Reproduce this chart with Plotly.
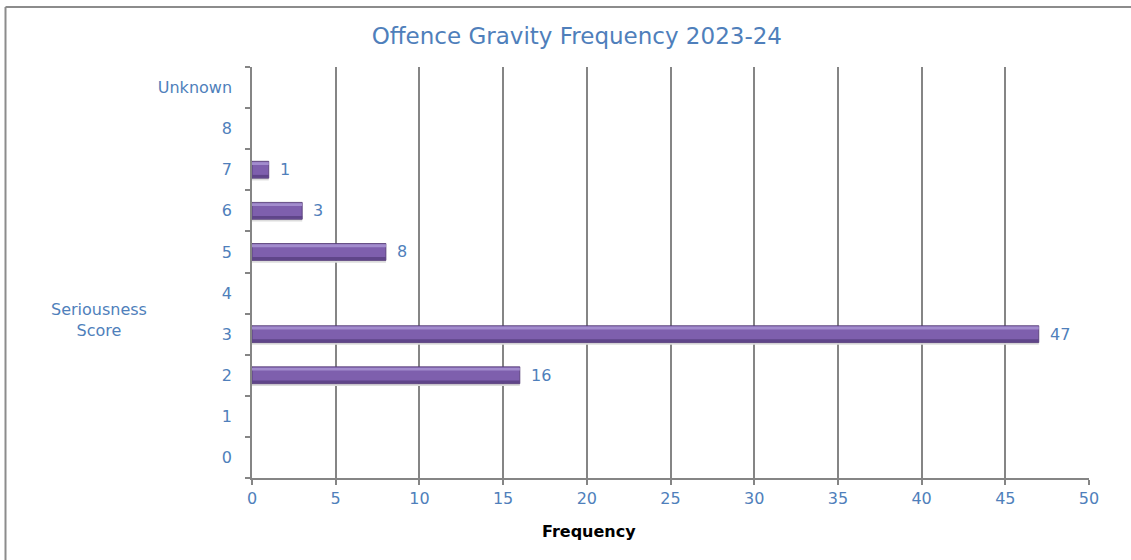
import plotly.graph_objects as go

# Seriousness score categories (bottom to top) and their frequencies
categories = ["0", "1", "2", "3", "4", "5", "6", "7", "8", "Unknown"]
score_cats = ["2", "3", "5", "6", "7"]
frequencies = [16, 47, 8, 3, 1]
x_ticks = [0, 5, 10, 15, 20, 25, 30, 35, 40, 45, 50]

BLUE = "#4F7FBB"
FONT = "DejaVu Sans"

fig = go.Figure()

# soft shadow beneath each bar
fig.add_trace(go.Bar(
    y=score_cats, x=frequencies, orientation="h",
    width=0.06, offset=-0.26,
    marker=dict(color="#DCDCDC", line=dict(width=0)),
    hoverinfo="skip", showlegend=False,
))
# main bar body
fig.add_trace(go.Bar(
    y=score_cats, x=frequencies, orientation="h",
    width=0.41, offset=-0.205,
    marker=dict(color="#7E5FAD", line=dict(color="#4F3670", width=0.8)),
    hoverinfo="x+y", showlegend=False,
))
# lighter bevel along the top edge
fig.add_trace(go.Bar(
    y=score_cats, x=frequencies, orientation="h",
    width=0.07, offset=0.115,
    marker=dict(color="#A28CCD", line=dict(width=0)),
    hoverinfo="skip", showlegend=False,
))
# darker shade along the bottom edge
fig.add_trace(go.Bar(
    y=score_cats, x=frequencies, orientation="h",
    width=0.07, offset=-0.195,
    marker=dict(color="#5F4589", line=dict(width=0)),
    hoverinfo="skip", showlegend=False,
))

# value labels to the right of each bar
for cat, val in zip(score_cats, frequencies):
    fig.add_annotation(
        x=val, y=cat, text=str(val), showarrow=False,
        xanchor="left", yanchor="middle", xshift=9,
        font=dict(family=FONT, size=16, color=BLUE),
    )

# y-axis caption set horizontally to the left
fig.add_annotation(
    xref="paper", yref="paper", x=-0.183, y=0.385,
    text="Seriousness<br>Score", showarrow=False,
    xanchor="center", yanchor="middle", align="center",
    font=dict(family=FONT, size=16, color=BLUE),
)

# x-axis caption
fig.add_annotation(
    xref="paper", yref="paper", x=0.4026, y=-0.13,
    text="<b>Frequency</b>", showarrow=False,
    xanchor="center", yanchor="middle",
    font=dict(family=FONT, size=16, color="black"),
)

fig.update_layout(
    width=1131, height=560,
    margin=dict(l=252, r=42, t=67, b=82),
    paper_bgcolor="white", plot_bgcolor="white",
    barmode="overlay",
    title=dict(
        text="Offence Gravity Frequency 2023-24",
        x=0.51, xanchor="center", y=0.935, yanchor="middle",
        font=dict(family=FONT, size=23, color=BLUE),
    ),
    xaxis=dict(
        range=[0, 50], tickvals=x_ticks, ticktext=[str(t) for t in x_ticks],
        showgrid=True, gridcolor="#858585", gridwidth=1.5,
        showline=True, linecolor="#858585", linewidth=1.5,
        ticks="outside", ticklen=5, tickcolor="#858585", tickwidth=1.5,
        tickfont=dict(family=FONT, size=16, color=BLUE),
        zeroline=False,
    ),
    yaxis=dict(
        type="category", categoryorder="array", categoryarray=categories,
        range=[-0.5, 9.5],
        tickson="boundaries", ticks="outside", ticklen=5,
        tickcolor="#858585", tickwidth=1.5,
        showline=True, linecolor="#858585", linewidth=1.5,
        showgrid=False, zeroline=False,
        tickfont=dict(family=FONT, size=16, color=BLUE),
        ticklabelstandoff=15,
    ),
    shapes=[
        # chart frame (open at right and bottom)
        dict(type="line", xref="paper", yref="paper", x0=-0.2945, x1=1.06, y0=1.146, y1=1.146,
             line=dict(color="#8C8C8C", width=2)),
        dict(type="line", xref="paper", yref="paper", x0=-0.2945, x1=-0.2945, y0=1.146, y1=-0.3,
             line=dict(color="#8C8C8C", width=2)),
    ],
)

fig.write_html("out.html")
